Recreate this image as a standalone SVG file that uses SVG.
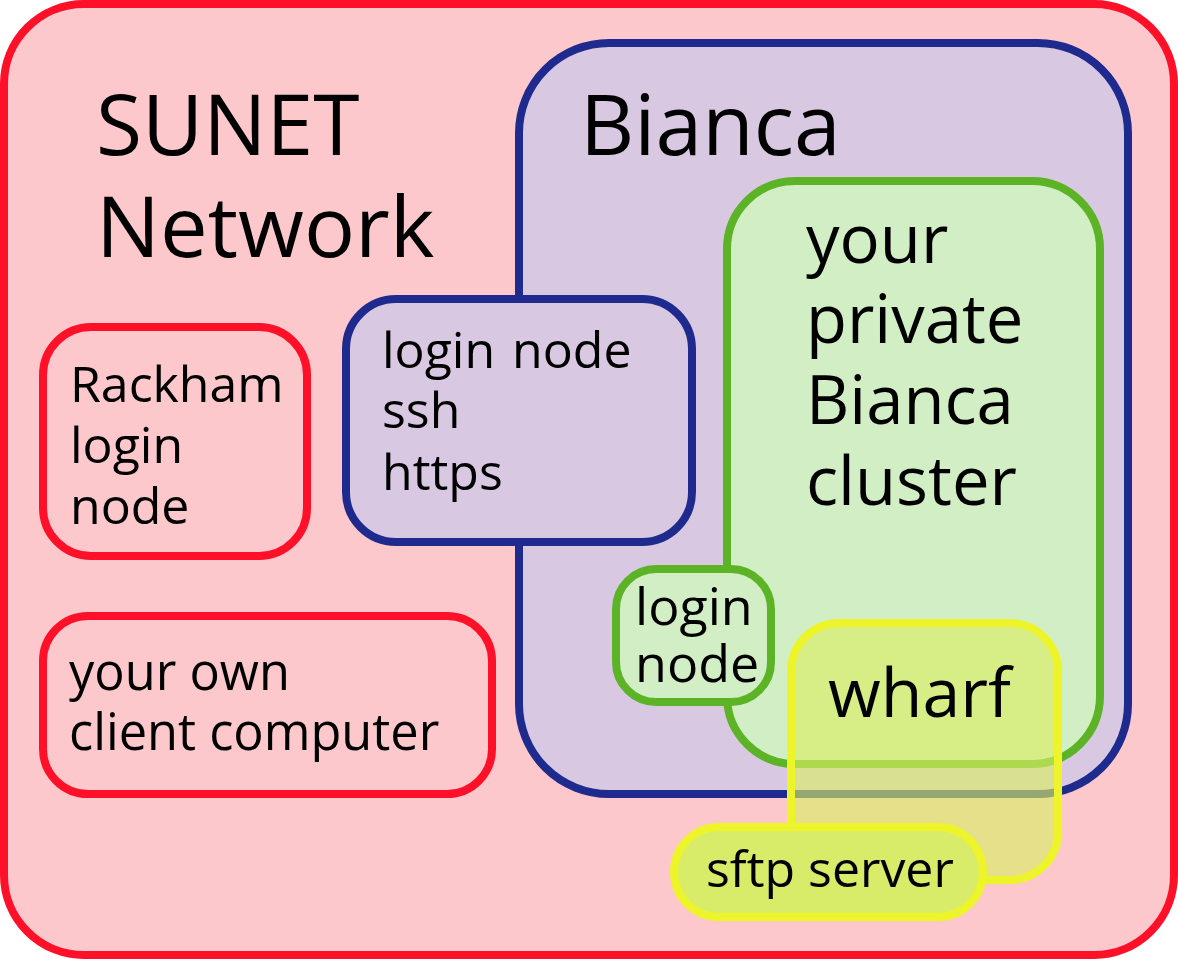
<svg xmlns="http://www.w3.org/2000/svg" width="1178" height="960" viewBox="0 0 1178 960">
<style>
text{font-family:"Open Sans","Noto Sans","DejaVu Sans",sans-serif;fill:#000}
.red{fill:#FCC8CC;stroke:#FE1029;stroke-width:8}
.blue{fill:#D8C8E2;stroke:#1F2A8F;stroke-width:8}
.green{fill:#D2EEC4;stroke:#5CB326;stroke-width:8}
.wharf{fill:rgb(218,238,100);fill-opacity:0.64;stroke:#EEF42A;stroke-width:8}
.sftp{fill:#D9EC69;stroke:#EEF42A;stroke-width:8}
.big{font-size:84px}
.mid{font-size:67px}
.sm{font-size:50px}
</style>
<g id="sunet">
<rect class="red" x="4" y="4" width="1170" height="951" rx="80"/>
<text class="big"><tspan x="96" y="155">SUNET</tspan><tspan x="96" y="257" font-size="85">Network</tspan></text>
</g>
<g id="bianca">
<rect class="blue" x="519" y="43" width="609" height="751" rx="90"/>
<text class="big" x="580" y="155">Bianca</text>
</g>
<g id="bianca-login">
<rect class="blue" x="346" y="299" width="346" height="243" rx="50"/>
<text class="sm"><tspan x="382" y="368" word-spacing="4">login node</tspan><tspan x="382" y="428">ssh</tspan><tspan x="382" y="490">https</tspan></text>
</g>
<g id="rackham">
<rect class="red" x="43" y="327" width="264" height="229" rx="48"/>
<text class="sm"><tspan x="70" y="402">Rackham</tspan><tspan x="70" y="463">login</tspan><tspan x="70" y="524">node</tspan></text>
</g>
<g id="client">
<rect class="red" x="43" y="616" width="449" height="178" rx="45"/>
<text font-size="50.5"><tspan x="69" y="690">your own</tspan><tspan x="69" y="750">client computer</tspan></text>
</g>
<g id="cluster">
<rect class="green" x="727" y="181" width="373" height="583" rx="68"/>
<text class="mid"><tspan x="806" y="263">your</tspan><tspan x="806" y="343">private</tspan><tspan x="806" y="424">Bianca</tspan><tspan x="806" y="505">cluster</tspan></text>
</g>
<g id="cluster-login">
<rect class="green" x="616" y="569" width="155" height="133" rx="40"/>
<text font-size="52"><tspan x="635" y="625">login</tspan><tspan x="635" y="682">node</tspan></text>
</g>
<g id="wharf">
<rect class="wharf" x="791" y="623" width="267" height="257" rx="48"/>
<text font-size="68" x="828" y="717">wharf</text>
</g>
<g id="sftp">
<rect class="sftp" x="674" y="827" width="309" height="90" rx="45"/>
<text font-size="50" x="706" y="887">sftp server</text>
</g>
<g id="connectors"/>
</svg>
